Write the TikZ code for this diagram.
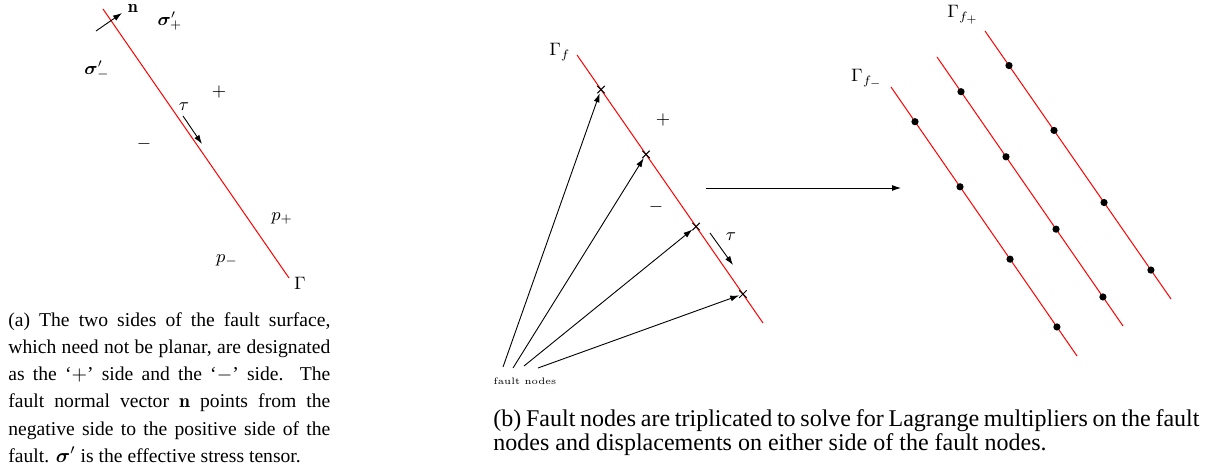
\documentclass[tikz,border=0pt]{standalone}
\usepackage{amsmath,bm}
\usepackage{fontspec}
\newfontfamily\capfont{Liberation Serif}
\usetikzlibrary{arrows.meta, shapes.misc}

\begin{document}
\begin{tikzpicture}[
  x=0.5pt, y=-0.5pt,
  font=\fontsize{9}{11}\selectfont,
  fault/.style={red, line width=0.5pt},
  arr/.style={-{Latex[length=4.5pt, width=3pt]}, line width=0.45pt},
  xmark/.style={cross out, draw=black, minimum size=3.2pt, inner sep=0pt, line width=0.5pt},
  fdot/.style={circle, fill=black, minimum size=3.6pt, inner sep=0pt},
  capt/.style={anchor=north west, inner sep=0pt, align=justify}
]
\useasboundingbox (0,0) rectangle (1209,464);

% (a) the two sides of the fault
\draw[fault] (103,9) -- (289,278);
\node[inner sep=1pt] (nlab) at (133,8) {$\mathbf{n}$};
\node (sigp) at (170,21) {$\bm{\sigma}'_+$};
\node (sigm) at (97,70) {$\bm{\sigma}'_-$};
\node (plusa) at (219,92) {$+$};
\node (minusa) at (144,144) {$-$};
\node (taua) at (184,107) {$\tau$};
\node (pp) at (282,218) {$p_+$};
\node (pm) at (227,260) {$p_-$};
\node (gam) at (300,283) {$\Gamma$};
\coordinate (n0) at (96,31);
\coordinate (n1) at (122,13);
\coordinate (ta0) at (183,116);
\coordinate (ta1) at (202,144);
\draw[arr] (n0) -- (n1);
\draw[arr] (ta0) -- (ta1);

\node[capt, text width=161pt, font=\capfont\fontsize{9.8}{13.6}\selectfont] (capa) at (8,312) {%
  \hyphenpenalty=10000 \emergencystretch=2em
  (a) The two sides of the fault surface, \linebreak
  which need not be planar, are designated \linebreak
  as the ‘$+$’ side and the ‘$-$’ side. The \linebreak
  fault normal vector $\mathbf{n}$ points from the \linebreak
  negative side to the positive side of the \linebreak
  fault. $\bm{\sigma}'$ is the effective stress tensor.};

% (b) fault nodes, then triplicated
\draw[fault] (577,55) -- (763,323)
  node[xmark, pos=.129] (x1) {} node[xmark, pos=.371] (x2) {}
  node[xmark, pos=.640] (x3) {} node[xmark, pos=.892] (x4) {};
\node (gf) at (560,52) {$\Gamma_f$};
\node (plusb) at (663,120) {$+$};
\node (minusb) at (656,207) {$-$};
\node (taub) at (731,237) {$\tau$};
\coordinate (tb0) at (710,233);
\coordinate (tb1) at (733,265);
\draw[arr] (tb0) -- (tb1);

\node[font=\fontsize{4.7}{6}\selectfont] (fn) at (525,381) {fault nodes};
\coordinate (f1) at (503,367);
\coordinate (f2) at (513,368);
\coordinate (f3) at (524,366);
\coordinate (f4) at (538,368);
\draw[arr] (f1) -- (x1);
\draw[arr] (f2) -- (x2);
\draw[arr] (f3) -- (x3);
\draw[arr] (f4) -- (x4);

\coordinate (h0) at (706,188);
\coordinate (h1) at (901,188);
\draw[arr] (h0) -- (h1);

\draw[fault] (891,87) -- (1077,356)
  node[fdot, pos=.129] (m1) {} node[fdot, pos=.371] (m2) {}
  node[fdot, pos=.640] (m3) {} node[fdot, pos=.892] (m4) {};
\draw[fault] (937,57) -- (1123,326)
  node[fdot, pos=.129] (c1) {} node[fdot, pos=.371] (c2) {}
  node[fdot, pos=.640] (c3) {} node[fdot, pos=.892] (c4) {};
\draw[fault] (985,31) -- (1171,299)
  node[fdot, pos=.129] (p1) {} node[fdot, pos=.371] (p2) {}
  node[fdot, pos=.640] (p3) {} node[fdot, pos=.892] (p4) {};
\node (gfp) at (963,15) {$\Gamma_{f_+}$};
\node (gfm) at (867,79) {$\Gamma_{f_-}$};

\node[capt, text width=353pt, font=\capfont\fontsize{12}{11}\selectfont] (capb) at (493,409) {%
  \hyphenpenalty=10000
  (b) Fault nodes are triplicated to solve for Lagrange multipliers on the fault \linebreak
  nodes and displacements on either side of the fault nodes.};

\end{tikzpicture}
\end{document}
